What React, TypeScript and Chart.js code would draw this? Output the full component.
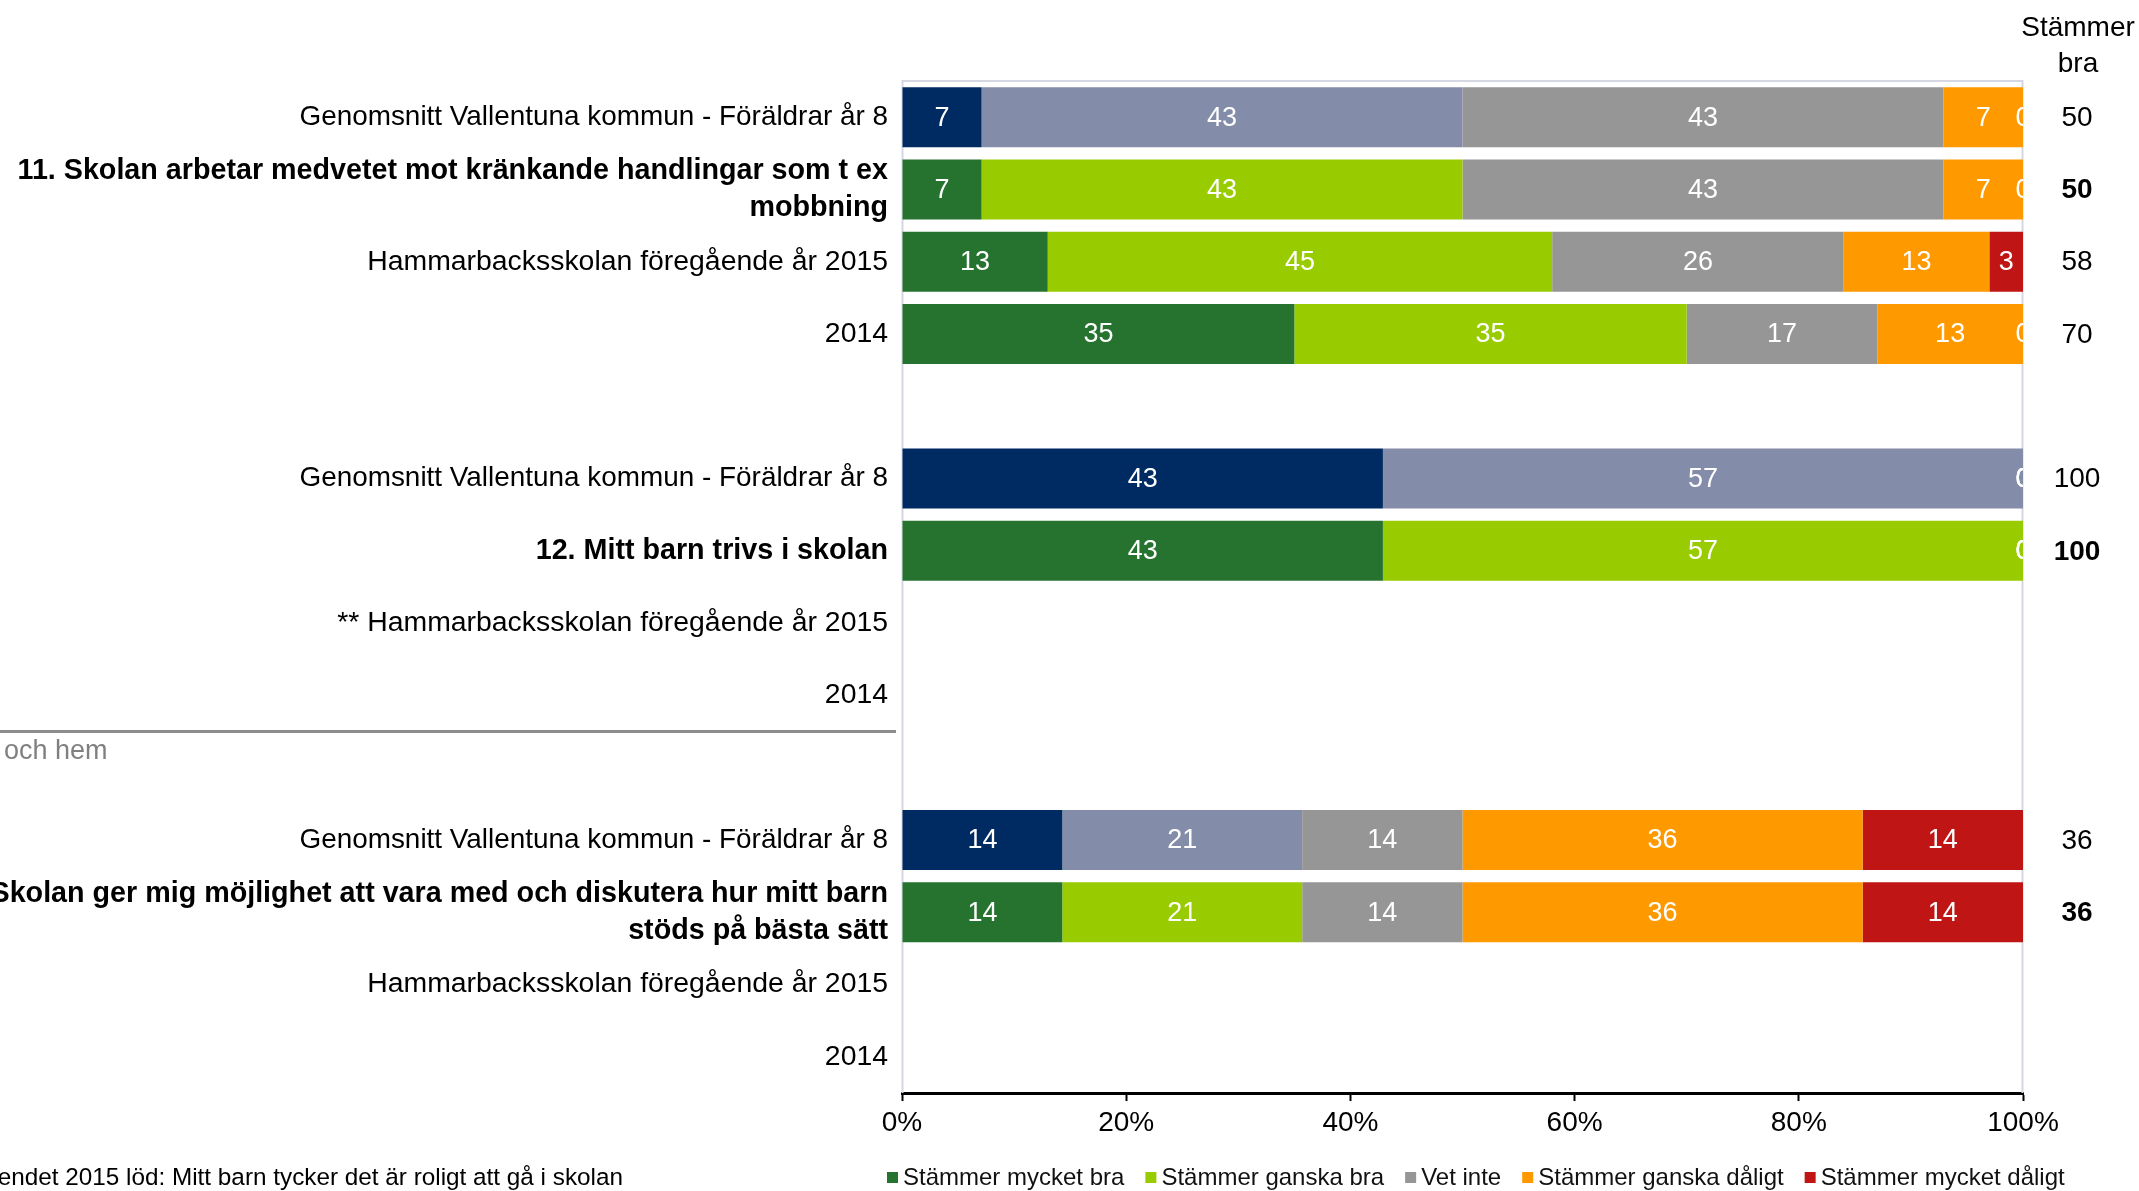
import React, { useEffect, useRef } from 'react';
import { Chart, registerables } from 'chart.js';

Chart.register(...registerables);

const FONT = '"Liberation Sans", Arial, Helvetica, sans-serif';

const categories: (string | string[])[] = [
  'Genomsnitt Vallentuna kommun - Föräldrar år 8',
  ['11. Skolan arbetar medvetet mot kränkande handlingar som t ex', 'mobbning'],
  'Hammarbacksskolan föregående år 2015',
  '2014',
  '',
  'Genomsnitt Vallentuna kommun - Föräldrar år 8',
  '12. Mitt barn trivs i skolan',
  '** Hammarbacksskolan föregående år 2015',
  '2014',
  '',
  'Genomsnitt Vallentuna kommun - Föräldrar år 8',
  ['13. Skolan ger mig möjlighet att vara med och diskutera hur mitt barn', 'stöds på bästa sätt'],
  'Hammarbacksskolan föregående år 2015',
  '2014',
];

const boldRows = [1, 6, 11];
const averageRows = [0, 5, 10];

const seriesNames = [
  'Stämmer mycket bra',
  'Stämmer ganska bra',
  'Vet inte',
  'Stämmer ganska dåligt',
  'Stämmer mycket dåligt',
];

const mycketBra = [7.1, 7.1, 13, 35, null, 42.9, 42.9, null, null, null, 14.3, 14.3, null, null];
const ganskaBra = [42.9, 42.9, 45, 35, null, 57.1, 57.1, null, null, null, 21.4, 21.4, null, null];
const vetInte = [42.9, 42.9, 26, 17, null, 0, 0, null, null, null, 14.3, 14.3, null, null];
const ganskaDaligt = [7.1, 7.1, 13, 13, null, 0, 0, null, null, null, 35.7, 35.7, null, null];
const mycketDaligt = [0, 0, 3, 0, null, 0, 0, null, null, null, 14.3, 14.3, null, null];

const stammerBra = [50, 50, 58, 70, null, 100, 100, null, null, null, 36, 36, null, null];
const stammerBraHeader = ['Stämmer', 'bra'];

const xTicks = [0, 20, 40, 60, 80, 100];

const sectionText = 'och hem';
const footnote = '** Påståendet 2015 löd: Mitt barn tycker det är roligt att gå i skolan';

const seriesColors = ['#267330', '#99CC00', '#969696', '#FF9900', '#BF1515'];
const averageColors = ['#002B62', '#838CA8', '#969696', '#FF9900', '#BF1515'];

const seriesData = [mycketBra, ganskaBra, vetInte, ganskaDaligt, mycketDaligt];

const framePlugin = {
  id: 'frame',
  beforeDatasetsDraw(chart: any) {
    const { ctx, chartArea: a } = chart;
    ctx.save();
    ctx.strokeStyle = '#D5D8E3';
    ctx.lineWidth = 2;
    ctx.beginPath();
    ctx.moveTo(a.left + 0.5, a.bottom);
    ctx.lineTo(a.left + 0.5, a.top);
    ctx.lineTo(a.right - 0.5, a.top);
    ctx.lineTo(a.right - 0.5, a.bottom);
    ctx.stroke();
    ctx.restore();
  },
};

const valueLabelPlugin = {
  id: 'valueLabels',
  afterDatasetsDraw(chart: any) {
    const { ctx, chartArea: a } = chart;
    ctx.save();
    ctx.beginPath();
    ctx.rect(a.left, a.top, a.right - a.left, a.bottom - a.top);
    ctx.clip();
    ctx.fillStyle = '#FFFFFF';
    ctx.font = `27px ${FONT}`;
    ctx.textAlign = 'center';
    ctx.textBaseline = 'middle';
    chart.data.datasets.forEach((ds: any, i: number) => {
      const meta = chart.getDatasetMeta(i);
      meta.data.forEach((el: any, j: number) => {
        const v = ds.data[j];
        if (v === null || v === undefined) return;
        const p = el.getProps(['x', 'base', 'y'], true);
        ctx.fillText(String(Math.round(v)), (p.x + p.base) / 2, p.y + 1);
      });
    });
    ctx.restore();
  },
};

const sidePlugin = {
  id: 'sideTexts',
  afterDraw(chart: any) {
    const { ctx } = chart;
    const yScale = chart.scales.y;
    ctx.save();
    ctx.fillStyle = '#000';
    ctx.textAlign = 'center';
    ctx.textBaseline = 'middle';
    ctx.font = `28px ${FONT}`;
    ctx.fillText(stammerBraHeader[0], 2078, 28);
    ctx.fillText(stammerBraHeader[1], 2078, 64);
    stammerBra.forEach((v, i) => {
      if (v === null) return;
      ctx.font = `${boldRows.includes(i) ? 'bold ' : ''}28px ${FONT}`;
      ctx.fillText(String(v), 2077, yScale.getPixelForValue(i) + 1);
    });
    ctx.fillStyle = '#8C8C8C';
    ctx.fillRect(0, 730, 896, 3);
    ctx.fillStyle = '#808080';
    ctx.textAlign = 'left';
    ctx.font = `27px ${FONT}`;
    ctx.fillText(sectionText, 4, 752);
    ctx.fillStyle = '#000';
    ctx.textAlign = 'right';
    ctx.font = `24.3px ${FONT}`;
    ctx.fillText(footnote, 623, 1178);
    ctx.font = `24px ${FONT}`;
    ctx.textAlign = 'left';
    let x = 887;
    const cy = 1178;
    seriesNames.forEach((name, i) => {
      ctx.fillStyle = seriesColors[i];
      ctx.fillRect(x, cy - 6, 11, 11);
      ctx.fillStyle = '#111';
      ctx.fillText(name, x + 16, cy);
      x += 16 + ctx.measureText(name).width + 21;
    });
    ctx.restore();
  },
};

export default function App() {
  const ref = useRef<HTMLCanvasElement>(null);

  useEffect(() => {
    const datasets = seriesNames.map((name, i) => ({
      label: name,
      data: seriesData[i],
      backgroundColor: categories.map((_, j) => (averageRows.includes(j) ? averageColors[i] : seriesColors[i])),
      borderWidth: 0,
      barPercentage: 0.83,
      categoryPercentage: 1,
    }));

    const chart = new Chart(ref.current as HTMLCanvasElement, {
      type: 'bar',
      data: { labels: categories, datasets },
      options: {
        indexAxis: 'y',
        animation: false,
        responsive: true,
        maintainAspectRatio: false,
        devicePixelRatio: 1,
        layout: { padding: { top: 81, right: 116, bottom: 0, left: 0 } },
        plugins: {
          legend: { display: false },
          tooltip: { enabled: false },
        },
        scales: {
          x: {
            type: 'linear',
            stacked: true,
            min: 0,
            max: 100,
            grid: {
              drawOnChartArea: false,
              drawTicks: true,
              tickLength: 8,
              tickColor: '#000',
              tickWidth: 2,
            },
            border: { display: true, color: '#000', width: 3 },
            ticks: {
              padding: 5,
              color: '#000',
              maxRotation: 0,
              font: { family: FONT, size: 28 },
              callback: (v: any) => `${v}%`,
            },
            afterBuildTicks: (s: any) => {
              s.ticks = xTicks.map((v) => ({ value: v }));
            },
            afterFit: (s: any) => {
              s.height = 98;
            },
          },
          y: {
            type: 'category',
            stacked: true,
            grid: { display: false, drawTicks: false },
            border: { display: false },
            ticks: {
              autoSkip: false,
              padding: 14,
              color: '#000',
              font: (c: any) => ({
                family: FONT,
                size: boldRows.includes(c.index) ? 28.7 : averageRows.includes(c.index) ? 27.9 : 28.4,
                lineHeight: 1.3,
                weight: boldRows.includes(c.index) ? 'bold' : 'normal',
              }),
            },
            afterFit: (s: any) => {
              s.width = 902;
            },
          },
        },
      } as any,
      plugins: [framePlugin, valueLabelPlugin, sidePlugin],
    });
    return () => chart.destroy();
  }, []);

  return (
    <div style={{ position: 'absolute', left: 0, top: 0, width: 2139, height: 1191, background: '#fff' }}>
      <canvas ref={ref} style={{ display: 'block' }} />
    </div>
  );
}
